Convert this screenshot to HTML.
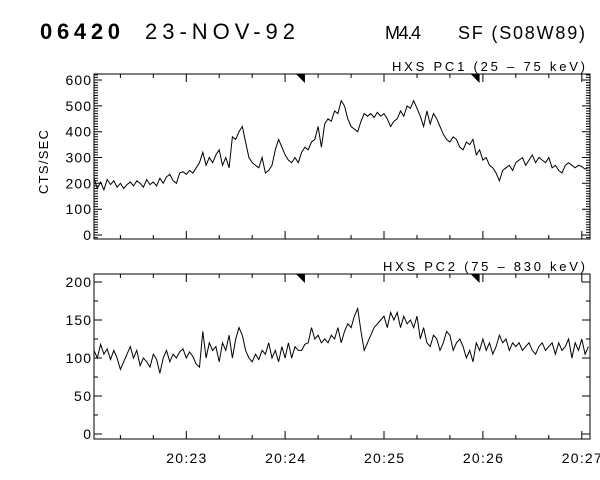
<!DOCTYPE html>
<html><head><meta charset="utf-8">
<style>
html,body{margin:0;padding:0;background:#fff;}
svg{display:block;font-family:"Liberation Sans",sans-serif;}
text{fill:#000;}
</style></head>
<body>
<svg id="chart" width="600" height="480" viewBox="0 0 600 480">
<text x="40" y="39" font-size="22" font-weight="bold" textLength="80" lengthAdjust="spacing">06420</text>
<text x="145" y="39" font-size="22" textLength="150" lengthAdjust="spacing">23-NOV-92</text>
<text x="385" y="39" font-size="18" textLength="36" lengthAdjust="spacing">M4.4</text>
<text x="458" y="39" font-size="18" textLength="127" lengthAdjust="spacing">SF (S08W89)</text>
<text x="392" y="71" font-size="13" textLength="193" lengthAdjust="spacing">HXS PC1 (25 – 75 keV)</text>
<text x="383" y="271" font-size="13" textLength="202" lengthAdjust="spacing">HXS PC2 (75 – 830 keV)</text>
<text transform="translate(48,162) rotate(-90)" font-size="13" text-anchor="middle" textLength="64" lengthAdjust="spacing">CTS/SEC</text>
<g id="p1"></g><g id="p2"></g><g id="xlab"></g>
</svg>
<script>
const timeStep = 2; // seconds from 20:22:04
const pc1Values = [220,180,205,175,215,195,210,185,200,180,195,
205,190,210,200,185,215,195,205,190,220,
200,225,235,210,200,240,245,235,250,240,
260,280,320,270,300,280,310,330,270,300,
260,380,370,400,420,360,300,280,270,260,
300,240,250,270,330,370,340,310,290,280,
300,280,320,340,330,360,370,420,340,430,
450,440,480,470,520,500,450,420,410,400,
440,470,460,470,455,475,460,470,450,420,
440,450,480,460,500,490,520,490,460,420,
480,430,470,450,420,390,370,360,380,370,
340,330,360,350,370,310,330,290,300,270,
260,240,210,250,260,270,250,280,290,300,
270,290,310,280,300,290,280,300,260,270,
250,240,270,280,270,260,270,265,255,260];
const pc2Values = [110,100,118,105,112,98,110,100,85,95,105,
115,100,110,90,100,95,88,105,98,80,
100,110,95,105,100,108,112,100,108,102,
92,88,135,100,120,110,115,95,120,110,
130,100,125,140,130,110,100,95,105,98,
110,105,120,100,110,95,115,100,120,100,
115,110,110,118,120,140,125,130,120,125,
120,130,125,140,120,135,145,140,155,165,
135,110,120,130,140,145,150,155,140,160,
150,160,140,155,145,150,140,155,125,140,
120,115,130,125,110,120,135,130,110,120,
125,115,100,110,95,120,110,125,110,120,
105,115,130,120,125,110,120,115,120,110,
115,120,110,105,115,120,110,115,120,105,
120,110,115,125,100,120,110,125,105,115];
const xTickLabels = ["20:23","20:24","20:25","20:26","20:27"];
const xTickSeconds = [56,116,176,236,296];
const markerSeconds = [128,234];
const pc1Ticks = [0,100,200,300,400,500,600];
const pc2Ticks = [0,50,100,150,200];

const NS="http://www.w3.org/2000/svg";
const X0=94,X1=590,T0=0,T1=301;
function xs(t){return X0+(t-T0)/(T1-T0)*(X1-X0);}
function mk(tag,attrs,parent){const e=document.createElementNS(NS,tag);for(const k in attrs)e.setAttribute(k,attrs[k]);parent.appendChild(e);return e;}

function panel(g,top,bot,y0px,yScale,vals,ticks,minorStep,name){
  const ys=v=>y0px-v*yScale;
  const box=mk('rect',{x:X0,y:top,width:X1-X0,height:bot-top,fill:'none',stroke:'#000','stroke-width':1},g);
  
  
  let d='';
  for(let v=-Math.floor((bot-y0px)/yScale/minorStep)*minorStep; ys(v)>=top; v+=minorStep){
    const y=ys(v).toFixed(1);
    const major=ticks.includes(v);
    const L=major?8:4;
    d+=`M${X0} ${y}h${L}M${X1} ${y}h${-L}`;
  }
  for(let t=16;t<T1;t+=20){
    const x=xs(t).toFixed(1);const major=xTickSeconds.includes(t);const L=major?8:4;
    d+=`M${x} ${bot}v${-L}M${x} ${top}v${L}`;
  }
  const tk=mk('path',{d:d,stroke:'#000','stroke-width':1,fill:'none'},g);
  
  
  ticks.forEach(v=>{
    const s=String(v);
    const t=mk('text',{x:X0-3,y:ys(v)+5,'font-size':14,'text-anchor':'end',textLength:s.length*8.5,lengthAdjust:'spacing'},g);
    t.textContent=s;
    
    
  });
  let p='';
  vals.forEach((v,i)=>{p+=(i?'L':'M')+xs(i*timeStep).toFixed(1)+' '+ys(v).toFixed(1);});
  const ln=mk('path',{d:p,stroke:'#000','stroke-width':1,fill:'none'},g);
  
  
  markerSeconds.forEach(s=>{
    const x=xs(s);
    const m=mk('path',{d:`M${x-9} ${top}L${x} ${top}L${x} ${top+9}Z`,fill:'#000'},g);
    
    
  });
}
panel(document.getElementById('p1'),74,239,235,0.2583,pc1Values,pc1Ticks,10,'pc1');
panel(document.getElementById('p2'),274,439,434,0.76,pc2Values,pc2Ticks,25,'pc2');
const xl=document.getElementById('xlab');
xTickLabels.forEach((s,i)=>{
  const t=mk('text',{x:xs(xTickSeconds[i]),y:463,'font-size':14,'text-anchor':'middle',textLength:40,lengthAdjust:'spacing'},xl);
  t.textContent=s;
  
  
});
</script>
</body></html>
